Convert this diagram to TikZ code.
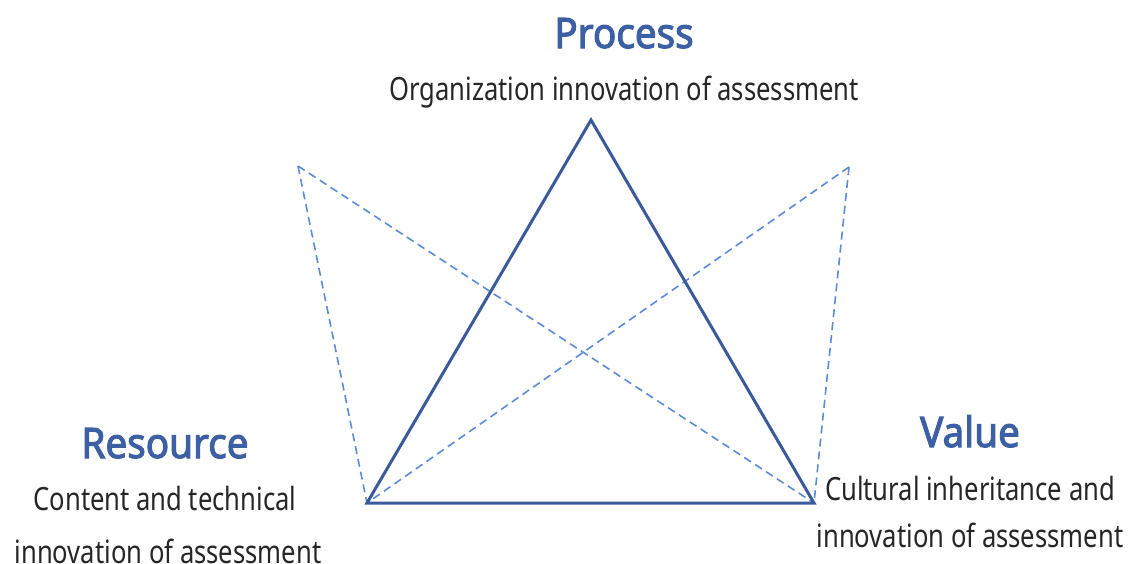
\documentclass[tikz,border=0pt]{standalone}
\usepackage{fontspec}
\setmainfont{Noto Sans}[FakeStretch=0.8]
\newfontfamily\headfont{Noto Sans}[FakeStretch=0.92, FakeBold=2.5]
\definecolor{edgeblue}{HTML}{3B5A9B}
\definecolor{titleblue}{HTML}{3D5FA3}
\definecolor{dashblue}{HTML}{5B8BD8}
\begin{document}
\begin{tikzpicture}[x=1pt,y=-1pt,
  title/.style={font=\fontsize{42}{42}\headfont, text=titleblue, inner sep=0pt, anchor=base},
  desc/.style={font=\fontsize{32}{32}\selectfont, text=black!85, inner sep=0pt, anchor=base},
  side/.style={draw=edgeblue, line width=3pt, line join=miter},
  cross/.style={draw=dashblue, line width=1.6pt, dash pattern=on 8pt off 5pt}]
\useasboundingbox (0,0) rectangle (1129,563);
% triangle corners and outer dashed anchors
\coordinate (P) at (591,120);
\coordinate (R) at (367,503);
\coordinate (V) at (814,503);
\coordinate (L) at (298,166);
\coordinate (T) at (849,167);
% dashed cross lines
\draw[cross] (L) -- (R);
\draw[cross] (L) -- (V);
\draw[cross] (T) -- (R);
\draw[cross] (T) -- (V);
% triangle
\draw[side] (P) -- (R) -- (V) -- cycle;
% labels
\node[title] (proc) at (624,48) {Process};
\node[desc] (procd) at (624,100) {Organization innovation of assessment};
\node[title] (res) at (165,458) {Resource};
\node[desc] (resd1) at (165,510) {Content and technical};
\node[desc] (resd2) at (168,563) {innovation of assessment};
\node[title] (val) at (970,447) {Value};
\node[desc] (vald1) at (970,500) {Cultural inheritance and};
\node[desc] (vald2) at (970,547) {innovation of assessment};
\end{tikzpicture}
\end{document}
